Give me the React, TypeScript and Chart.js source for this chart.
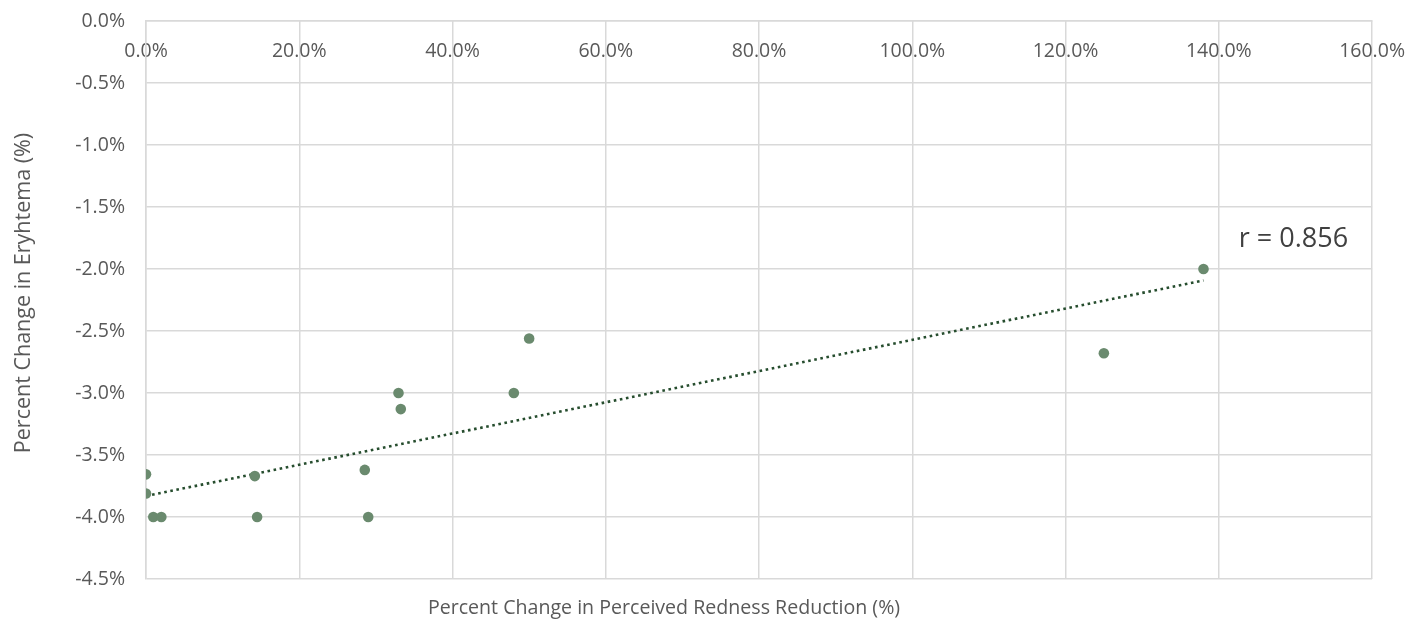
import React, { useEffect, useRef } from "react";
import { Chart, registerables } from "chart.js";

Chart.register(...registerables);

const rednessReduction = [0, 0, 0.95, 2.0, 14.2, 14.5, 28.55, 29.0, 32.95, 33.25, 48.0, 50.0, 125.0, 138.0];
const erythemaChange = [-3.656, -3.81, -4.0, -4.0, -3.67, -4.0, -3.62, -4.0, -3.0, -3.13, -3.0, -2.56, -2.68, -2.0];
const xTicks = [0, 20, 40, 60, 80, 100, 120, 140, 160];
const yTicks = [0, -0.5, -1, -1.5, -2, -2.5, -3, -3.5, -4, -4.5];
const rLabel = "r = 0.856";
const xTitle = "Percent Change in Perceived Redness Reduction (%)";
const yTitle = "Percent Change in Eryhtema (%)";

function regression(xs: number[], ys: number[]) {
  const n = xs.length;
  const mx = xs.reduce((a, b) => a + b, 0) / n;
  const my = ys.reduce((a, b) => a + b, 0) / n;
  let sxy = 0, sxx = 0;
  for (let i = 0; i < n; i++) {
    sxy += (xs[i] - mx) * (ys[i] - my);
    sxx += (xs[i] - mx) * (xs[i] - mx);
  }
  const slope = sxy / sxx;
  return { slope, intercept: my - slope * mx };
}

const FONT = "'Open Sans', 'Noto Sans', sans-serif";

export default function App() {
  const ref = useRef<HTMLCanvasElement | null>(null);
  useEffect(() => {
    if (!ref.current) return;
    const { slope, intercept } = regression(rednessReduction, erythemaChange);
    const xMin = Math.min(...rednessReduction);
    const xMax = Math.max(...rednessReduction);
    const trend = [
      { x: xMin, y: intercept + slope * xMin },
      { x: xMax, y: intercept + slope * xMax },
    ];
    const points = rednessReduction.map((x, i) => ({ x, y: erythemaChange[i] }));

    const textPlugin = {
      id: "texts",
      afterDatasetsDraw(chart: any) {
        const { ctx, scales } = chart;
        ctx.save();
        ctx.fillStyle = "#404040";
        ctx.textBaseline = "middle";
        ctx.textAlign = "left";
        ctx.font = `27px ${FONT}`;
        ctx.fillText(rLabel, scales.x.getPixelForValue(142.6), scales.y.getPixelForValue(-1.76));

        ctx.fillStyle = "#595959";
        ctx.textAlign = "center";
        ctx.font = `19.6px ${FONT}`;
        ctx.fillText(xTitle, 664, 608);

        ctx.font = `21.5px ${FONT}`;
        ctx.translate(24, 293);
        ctx.rotate(-Math.PI / 2);
        ctx.fillText(yTitle, 0, 0);
        ctx.restore();
      },
    };

    const chart = new Chart(ref.current, {
      type: "scatter",
      data: {
        datasets: [
          {
            type: "line",
            data: trend,
            borderColor: "#264d2e",
            borderWidth: 2.6,
            borderDash: [2.6, 3.6],
            pointRadius: 0,
            fill: false,
            order: 2,
          } as any,
          {
            data: points,
            backgroundColor: "#6a8a6e",
            borderColor: "#6a8a6e",
            pointRadius: 5.3,
            pointBorderWidth: 0,
            order: 1,
          },
        ],
      },
      options: {
        animation: false,
        responsive: false,
        maintainAspectRatio: false,
        layout: { padding: { left: 0, right: 51, top: 21, bottom: 0 } },
        plugins: { legend: { display: false }, tooltip: { enabled: false } },
        scales: {
          x: {
            type: "linear",
            position: { y: 0 } as any,
            min: 0,
            max: 160,
            afterBuildTicks: (s: any) => { s.ticks = xTicks.map((v) => ({ value: v })); },
            afterFit: (s: any) => { s.height = 0; s.paddingTop = 0; s.paddingBottom = 0; },
            grid: { color: "#d9d9d9", lineWidth: 1.5, drawTicks: false },
            border: { display: true, color: "#d9d9d9", width: 1.5 },
            ticks: {
              padding: 19,
              color: "#595959",
              font: { family: FONT, size: 19.5 },
              callback: (v: any) => Number(v).toFixed(1) + "%",
            },
          },
          x2: {
            type: "linear",
            position: "bottom",
            axis: "x",
            min: 0,
            max: 160,
            grid: { display: false },
            border: { display: false },
            ticks: { display: false },
            afterFit: (s: any) => { s.height = 45; },
          } as any,
          y: {
            type: "linear",
            position: "left",
            min: -4.5,
            max: 0,
            afterBuildTicks: (s: any) => { s.ticks = yTicks.map((v) => ({ value: v })); },
            afterFit: (s: any) => { s.width = 146; s.paddingTop = 0; s.paddingBottom = 0; },
            grid: { color: "#d9d9d9", lineWidth: 1.5, drawTicks: false },
            border: { display: true, color: "#d9d9d9", width: 1.5 },
            ticks: {
              padding: 21,
              color: "#595959",
              font: { family: FONT, size: 19.5 },
              callback: (v: any) => (Math.abs(Number(v)) < 1e-9 ? 0 : Number(v)).toFixed(1) + "%",
            },
          },
        },
      },
      plugins: [textPlugin],
    });
    return () => chart.destroy();
  }, []);
  return (
    <div style={{ position: "fixed", left: 0, top: 0, width: 1424, height: 624, background: "#fff" }}>
      <canvas ref={ref} width={1424} height={624} style={{ width: 1424, height: 624, display: "block" }} />
    </div>
  );
}
